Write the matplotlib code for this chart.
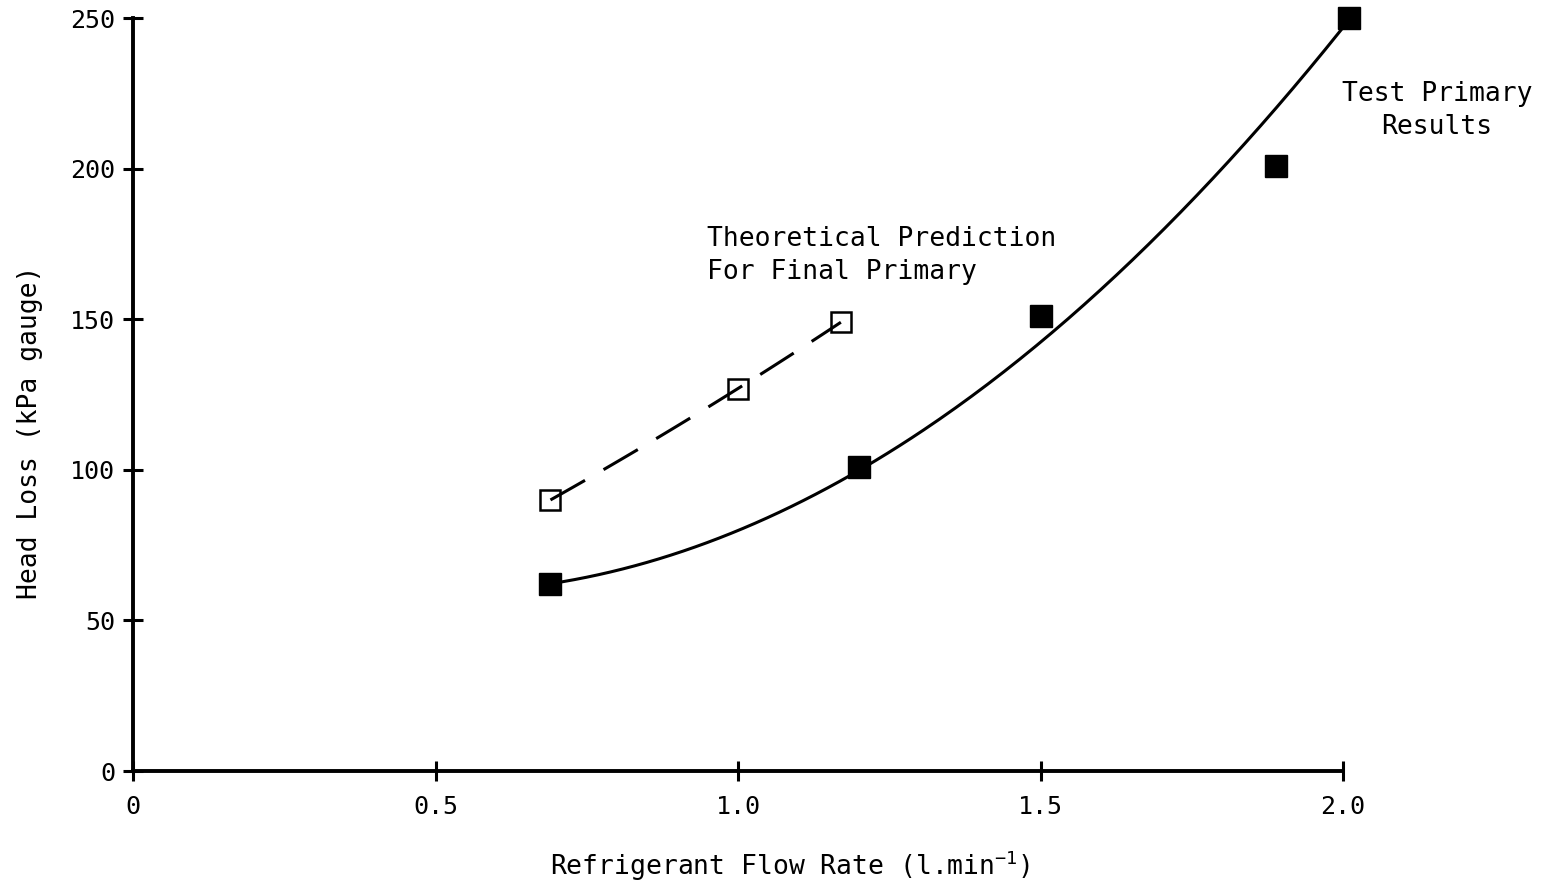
"""Head loss vs refrigerant flow rate."""
import matplotlib.pyplot as plt
import matplotlib as mpl
import numpy as np

mpl.rcParams["font.family"] = "DejaVu Sans Mono"
mpl.rcParams["mathtext.fontset"] = "custom"
mpl.rcParams["mathtext.rm"] = "DejaVu Sans Mono"

# Test primary results (filled squares)
test_flow = [0.69, 1.20, 1.50, 1.89, 2.01]
test_loss = [62, 101, 151, 201, 250]
# Theoretical prediction for final primary (open squares)
theo_flow = [0.69, 1.00, 1.17]
theo_loss = [90, 127, 149]
# points
curve_flow = [0.69, 1.00, 1.20, 1.50, 1.75, 2.01]
curve_loss = [62, 80, 100, 143, 188, 250]

xticks = [0, 0.5, 1.0, 1.5, 2.0]
xticklabels = ["0", "0.5", "1.0", "1.5", "2.0"]
yticks = [0, 50, 100, 150, 200, 250]

fig = plt.figure(figsize=(15.43, 8.93), dpi=100)
ax = fig.add_axes([0.0862, 0.1366, 0.7842, 0.8432])

# smooth curves through the read points
cs = np.polyfit(curve_flow, curve_loss, 2)
xs = np.linspace(curve_flow[0], curve_flow[-1], 200)
ax.plot(xs, np.polyval(cs, xs), color="black", lw=2.2, clip_on=False)

ct = np.polyfit(theo_flow, theo_loss, 2)
xt = np.linspace(theo_flow[0], theo_flow[-1], 100)
ax.plot(xt, np.polyval(ct, xt), color="black", lw=2.2, dashes=(13, 7), zorder=4)

ax.plot(test_flow, test_loss, "s", ms=16, color="black", clip_on=False, zorder=3)
ax.plot(theo_flow, theo_loss, "s", ms=15, mfc="none", mec="black", mew=1.8, zorder=3)

ax.text(0.949, 181, "Theoretical Prediction\nFor Final Primary", fontsize=19,
        ha="left", va="top", linespacing=1.35)
ax.text(2.155, 229, "Test Primary\nResults", fontsize=19,
        ha="center", va="top", linespacing=1.35, clip_on=False)

ax.set_xlim(0, 2.0)
ax.set_ylim(0, 250)
ax.set_xticks(xticks)
ax.set_xticklabels(xticklabels)
ax.set_yticks(yticks)
for side in ["top", "right"]:
    ax.spines[side].set_visible(False)
for side in ["left", "bottom"]:
    ax.spines[side].set_linewidth(2.8)
ax.tick_params(direction="inout", length=14, width=2.2, labelsize=18, pad=6)
ax.tick_params(axis="x", pad=10)

ax.set_xlabel(r"Refrigerant Flow Rate (l.min$^{-1}$)", fontsize=19)
ax.set_ylabel("Head Loss (kPa gauge)", fontsize=19)
ax.xaxis.set_label_coords(0.543, -0.103)
ax.yaxis.set_label_coords(-0.074, 0.45)

fig.savefig("out.png", dpi=100)
